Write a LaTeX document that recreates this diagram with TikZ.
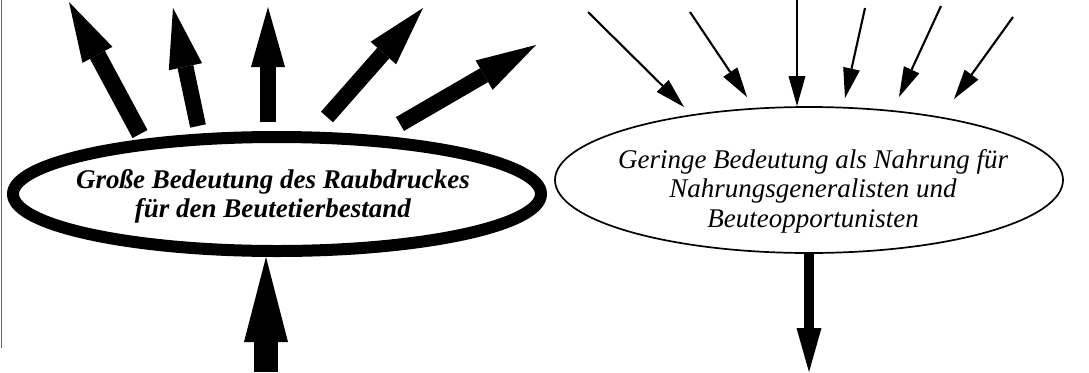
\documentclass[tikz,border=0pt]{standalone}
\usepackage{fontspec}
\setmainfont{Liberation Serif}
\usetikzlibrary{arrows.meta,shapes.geometric}
\begin{document}
\begin{tikzpicture}[x=1bp,y=-1bp,
  bigarrow/.style={line width=16bp,-{Triangle[length=60bp,width=34bp,line width=0pt]}},
  thinarrow/.style={line width=2.1bp,-{Triangle[length=30bp,width=17bp,line width=0pt]}},
  boldell/.style={draw,ellipse,line width=12bp,inner sep=0pt},
  thinell/.style={draw,ellipse,line width=1.7bp,inner sep=0pt},
  boldtxt/.style={align=center,font=\fontsize{27bp}{29bp}\selectfont\bfseries\itshape},
  lighttxt/.style={align=center,font=\fontsize{27bp}{29.5bp}\selectfont\itshape}
]
\useasboundingbox (0,0) rectangle (1089,372);
\draw[line width=1bp,black!60] (1,0) -- (1,348);
% left ellipse
\node[boldell,minimum width=528bp,minimum height=114bp] (E1) at (277,194) {};
\node[boldtxt] (T1) at (273,196) {Große Bedeutung des Raubdruckes\\für den Beutetierbestand};
% right ellipse
\node[thinell,minimum width=508bp,minimum height=146bp] (E2) at (809,180) {};
\node[lighttxt] (T2) at (813,191) {Geringe Bedeutung als Nahrung für\\Nahrungsgeneralisten und\\Beuteopportunisten};
% left outward arrows
\coordinate (a1s) at (140,134); \coordinate (a1e) at (69,2);
\coordinate (a2s) at (198,126); \coordinate (a2e) at (173,8);
\coordinate (a3s) at (268,122); \coordinate (a3e) at (268,7);
\coordinate (a4s) at (327,117); \coordinate (a4e) at (423,8);
\coordinate (a5s) at (400,124); \coordinate (a5e) at (536,45);
\draw[bigarrow,line width=17bp] (a1s) -- (a1e);
\draw[bigarrow] (a2s) -- (a2e);
\draw[bigarrow] (a3s) -- (a3e);
\draw[bigarrow] (a4s) -- (a4e);
\draw[bigarrow] (a5s) -- (a5e);
% bottom left arrow
\coordinate (b1s) at (266,372);
\draw[line width=24bp,-{Triangle[length=85bp,width=44bp,line width=0pt]}] (b1s) -- (b1s |- E1.south);
% right inward arrows
\coordinate (r1s) at (588,12);  \coordinate (r1e) at (684,107);
\coordinate (r2s) at (690,12);  \coordinate (r2e) at (747,97);
\coordinate (r3s) at (797,0);
\coordinate (r4s) at (865,8);   \coordinate (r4e) at (845,98);
\coordinate (r5s) at (941,6);   \coordinate (r5e) at (899,97);
\coordinate (r6s) at (1013,17); \coordinate (r6e) at (954,99);
\draw[thinarrow] (r1s) -- (r1e);
\draw[thinarrow] (r2s) -- (r2e);
\draw[thinarrow] (r3s) -- (r3s |- E2.north);
\draw[thinarrow] (r4s) -- (r4e);
\draw[thinarrow] (r5s) -- (r5e);
\draw[thinarrow] (r6s) -- (r6e);
% bottom right arrow
\coordinate (b2e) at (809,372);
\draw[line width=10bp,-{Triangle[length=44bp,width=25bp,line width=0pt]}] (E2.south -| b2e) -- (b2e);
\end{tikzpicture}
\end{document}
